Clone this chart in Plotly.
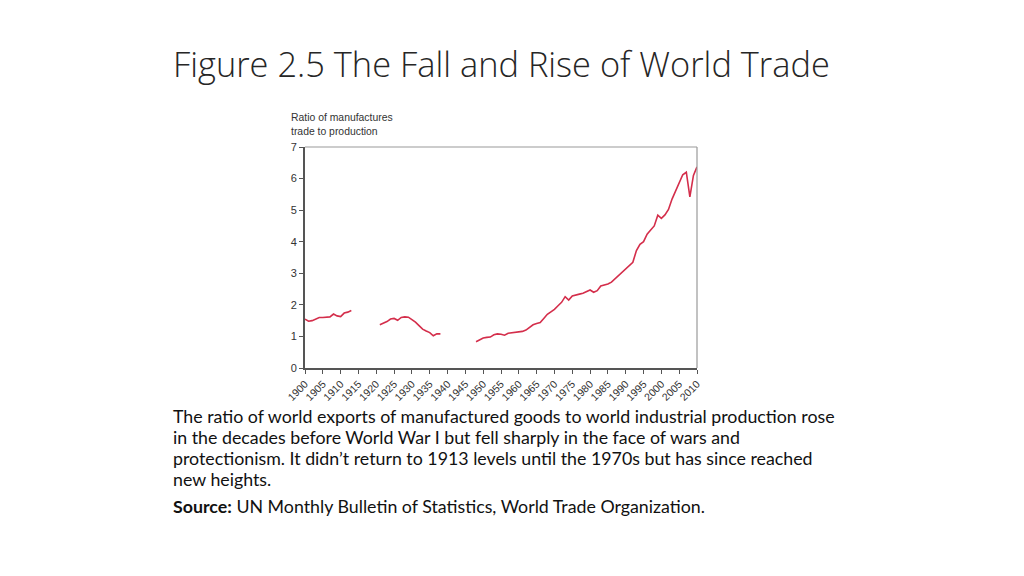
import plotly.graph_objects as go

years = list(range(1900, 2011))

seg1 = {1900: 1.55, 1901: 1.48, 1902: 1.50, 1903: 1.55, 1904: 1.60, 1905: 1.60, 1906: 1.60,
        1907: 1.62, 1908: 1.71, 1909: 1.65, 1910: 1.63, 1911: 1.74, 1912: 1.77, 1913: 1.82}
seg2 = {1921: 1.37, 1922: 1.42, 1923: 1.47, 1924: 1.55, 1925: 1.57, 1926: 1.51, 1927: 1.60,
        1928: 1.62, 1929: 1.61, 1930: 1.53, 1931: 1.45, 1932: 1.34, 1933: 1.23, 1934: 1.17,
        1935: 1.12, 1936: 1.02, 1937: 1.08, 1938: 1.08}
seg3_years = list(range(1948, 2011))
seg3_values = [0.83, 0.88, 0.95, 0.97, 0.98, 1.05, 1.08, 1.07, 1.04, 1.10,
               1.11, 1.13, 1.15, 1.16, 1.20, 1.30, 1.37, 1.41, 1.44, 1.57,
               1.70, 1.78, 1.86, 1.97, 2.08, 2.26, 2.15, 2.28, 2.32, 2.34,
               2.37, 2.43, 2.47, 2.40, 2.45, 2.60, 2.63, 2.66, 2.72, 2.82,
               2.93, 3.03, 3.12, 3.22, 3.35, 3.72, 3.92, 4.00, 4.24, 4.37,
               4.50, 4.84, 4.74, 4.85, 5.02, 5.35, 5.60, 5.90, 6.12, 6.20,
               5.42, 6.10, 6.37]
seg3 = dict(zip(seg3_years, seg3_values))

ratio = []
for y in years:
    if y in seg1:
        ratio.append(seg1[y])
    elif y in seg2:
        ratio.append(seg2[y])
    elif y in seg3:
        ratio.append(seg3[y])
    else:
        ratio.append(None)

x_ticks = list(range(1900, 2011, 5))
y_ticks = list(range(0, 8))

caption_lines = [
    "The ratio of world exports of manufactured goods to world industrial production rose",
    "in the decades before World War I but fell sharply in the face of wars and",
    "protectionism. It didn’t return to 1913 levels until the 1970s but has since reached",
    "new heights.",
]
source_text = "<b>Source:</b> UN Monthly Bulletin of Statistics, World Trade Organization."

fig = go.Figure()
fig.add_trace(go.Scatter(x=years, y=ratio, mode="lines", connectgaps=False,
                         line=dict(color="#d42e4b", width=1.6, shape="linear"),
                         hoverinfo="skip"))

# page offset of 8px (body margin); plot area in page: x 305..697, y 147..368
PL, PR, PT, PB = 305, 697, 147, 368
W = PR - PL
H = PB - PT

def px(xp):
    return (xp - PL) / W

def py(yp):
    return (PB - yp) / H

axis_font = dict(family="Liberation Sans, Arial, sans-serif", size=10.5, color="#333333")
fig.update_layout(
    width=1024, height=576,
    margin=dict(l=PL - 8, r=1024 - (PR - 8), t=PT - 8, b=576 - (PB - 8)),
    paper_bgcolor="white", plot_bgcolor="white",
    showlegend=False,
    xaxis=dict(range=[1900, 2010], tickvals=x_ticks, ticktext=[str(t) for t in x_ticks],
               tickangle=-45, ticks="outside", ticklen=4, tickcolor="#555",
               showline=True, linecolor="#555", linewidth=1.8, showgrid=False,
               zeroline=False, tickfont=axis_font),
    yaxis=dict(range=[0, 7], tickvals=y_ticks, ticks="outside", ticklen=4, tickcolor="#555",
               showline=True, linecolor="#555", linewidth=1.8, showgrid=False,
               zeroline=False, tickfont=dict(family="Liberation Sans, Arial, sans-serif",
                                             size=11, color="#333333")),
    shapes=[
        dict(type="line", xref="paper", yref="paper", x0=0, x1=1, y0=1, y1=1,
             line=dict(color="#999999", width=1.2)),
        dict(type="line", xref="paper", yref="paper", x0=1, x1=1, y0=0, y1=1,
             line=dict(color="#999999", width=1.2)),
    ],
)

fig.add_annotation(text="Ratio of manufactures<br>trade to production",
                   xref="paper", yref="paper", x=px(289), y=py(139), xanchor="left", yanchor="bottom",
                   align="left", showarrow=False,
                   font=dict(family="Liberation Sans, Arial, sans-serif", size=10.4, color="#333333"))

fig.add_annotation(text="Figure 2.5 The Fall and Rise of World Trade",
                   xref="paper", yref="paper", x=px(171), y=py(63),
                   xanchor="left", yanchor="middle", showarrow=False,
                   font=dict(family="Open Sans, sans-serif", size=34.4, weight=300, color="#262626"))

for i, line in enumerate(caption_lines):
    fig.add_annotation(text=line, xref="paper", yref="paper",
                       x=px(171), y=py(416 + 21 * i), xanchor="left", yanchor="middle",
                       align="left", showarrow=False,
                       font=dict(family="Lato, sans-serif", size=17.8, color="#111111"))
fig.add_annotation(text=source_text, xref="paper", yref="paper",
                   x=px(171), y=py(506), xanchor="left", yanchor="middle",
                   align="left", showarrow=False,
                   font=dict(family="Lato, sans-serif", size=17.8, color="#111111"))

fig.write_html("out.html")
